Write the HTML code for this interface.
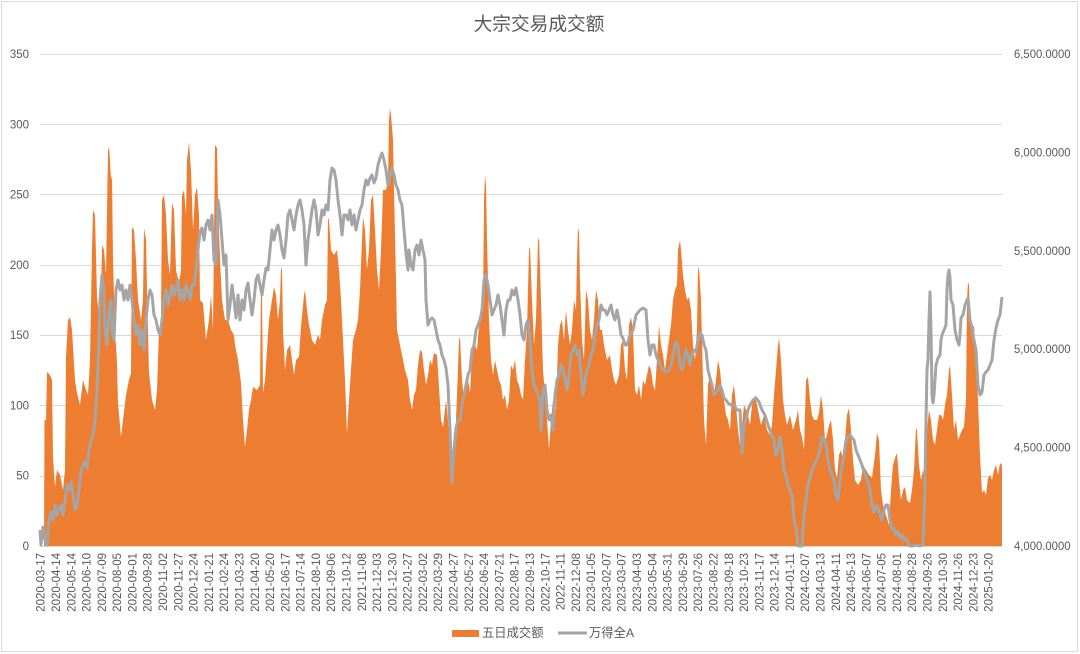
<!DOCTYPE html>
<html>
<head>
<meta charset="utf-8">
<style>
html,body{margin:0;padding:0;background:#fff;}
svg{display:block;}
text{font-family:"Liberation Sans","Noto Sans CJK SC",sans-serif;fill:#595959;}
.cjk{font-family:"Liberation Sans","Noto Sans CJK SC",sans-serif;}
</style>
</head>
<body>
<svg width="1080" height="654" viewBox="0 0 1080 654" xmlns="http://www.w3.org/2000/svg">
<rect x="0" y="0" width="1080" height="654" fill="#fff"/>
<rect x="1.5" y="1.5" width="1076" height="650" fill="none" stroke="#d9d9d9" stroke-width="1"/>

<text class="cjk" x="539" y="30.5" font-size="18.7" text-anchor="middle">大宗交易成交额</text>

<g stroke="#d9d9d9" stroke-width="1">
<line x1="40" y1="54.5" x2="1002" y2="54.5"/>
<line x1="40" y1="124.5" x2="1002" y2="124.5"/>
<line x1="40" y1="194.5" x2="1002" y2="194.5"/>
<line x1="40" y1="265.5" x2="1002" y2="265.5"/>
<line x1="40" y1="335.5" x2="1002" y2="335.5"/>
<line x1="40" y1="405.5" x2="1002" y2="405.5"/>
<line x1="40" y1="476.5" x2="1002" y2="476.5"/>
</g>

<g font-size="11.5" text-anchor="end">
<text x="29" y="58">350</text>
<text x="29" y="128.3">300</text>
<text x="29" y="198.6">250</text>
<text x="29" y="268.9">200</text>
<text x="29" y="339.1">150</text>
<text x="29" y="409.4">100</text>
<text x="29" y="479.7">50</text>
<text x="29" y="550">0</text>
</g>

<g font-size="11.5">
<text x="1014" y="58" textLength="56.5" lengthAdjust="spacingAndGlyphs">6,500.0000</text>
<text x="1014" y="156.4" textLength="56.5" lengthAdjust="spacingAndGlyphs">6,000.0000</text>
<text x="1014" y="254.8" textLength="56.5" lengthAdjust="spacingAndGlyphs">5,500.0000</text>
<text x="1014" y="353.2" textLength="56.5" lengthAdjust="spacingAndGlyphs">5,000.0000</text>
<text x="1014" y="451.6" textLength="56.5" lengthAdjust="spacingAndGlyphs">4,500.0000</text>
<text x="1014" y="550" textLength="56.5" lengthAdjust="spacingAndGlyphs">4,000.0000</text>
</g>

<polygon fill="#ed7d31" points="40,546 44,546 44.5,420 46,420 47,372 50,375 52,380 53,457 55,487 57,470 60,475 63,490 65,470 66,357 68,320 70,317 72,330 73,347 75,380 77,393 80,405 83,380 86,390 88,395 90,360 92,250 93,210 95,215 97,297 99,315 101,300 102,245 104,250 106,275 108,150 109,147 110,160 111,180 112,175 113,260 115,330 117,363 118,403 121,437 123,420 126,395 129,380 131,373 132,227 134,230 136,260 138,300 141,320 143,300 144,228 146,240 147,290 149,373 152,400 155,410 157,390 159,330 161,320 162,200 164,195 166,215 168,260 170,275 172,203 174,210 176,270 179,283 181,270 182,195 184,190 186,215 187,160 189,142 191,170 193,230 195,195 197,187 199,215 200,300 203,303 206,340 209,320 211,295 213,330 215,145 217,148 218,200 220,260 222,300 225,320 228,320 231,330 234,335 235,345 238,360 241,383 243,420 245,447 247,430 249,410 251,400 253,387 257,390 260,385 261,287 262,290 263,393 265,380 267,350 269,320 272,300 274,287 276,295 278,320 280,300 281,267 282,270 283,330 285,370 287,350 290,345 292,360 294,375 296,360 299,357 301,327 304,295 305,290 307,310 309,325 312,340 315,345 318,335 320,340 322,320 325,305 327,300 328,218 329,220 331,250 334,255 337,250 339,270 341,300 343,340 345,380 347,433 349,400 351,370 353,340 356,330 358,320 360,290 362,240 363,217 365,230 367,270 369,250 371,200 373,195 375,230 377,270 379,290 381,250 383,190 386,190 388,180 389,120 390,108 391,115 393,140 394,190 396,280 397,330 399,340 402,355 405,370 408,380 410,400 412,410 414,395 416,390 418,365 420,350 422,352 424,370 426,385 428,375 430,360 432,365 434,353 437,355 439,387 441,420 443,427 446,400 448,420 450,450 452,465 454,455 456,420 457,395 459,340 460,337 462,380 464,400 466,390 468,380 470,393 472,355 475,345 477,350 479,325 481,315 483,310 484,200 485,175 486,185 487,240 489,320 491,360 493,375 495,360 497,370 499,380 501,385 503,400 505,395 507,410 509,400 511,365 513,370 515,360 517,380 519,385 521,395 523,400 525,360 527,330 529,250 530,247 532,300 534,345 536,320 538,240 539,238 541,300 543,370 545,395 547,420 549,450 551,420 553,400 556,410 558,345 560,325 562,320 564,340 566,310 568,330 570,345 572,330 574,300 576,310 577,260 578,228 579,232 580,280 582,340 584,360 586,290 588,300 590,330 592,340 594,320 596,290 598,300 600,330 602,330 604,345 607,360 610,355 612,370 614,380 616,385 619,375 621,345 623,340 625,370 627,380 629,325 631,317 633,330 635,390 637,395 639,385 641,400 643,380 645,385 647,375 649,365 651,370 653,385 655,390 657,360 659,325 661,345 663,355 665,370 667,355 669,340 671,325 673,300 675,290 677,285 678,250 680,240 681,250 683,275 685,290 687,300 689,297 691,310 693,345 695,360 697,330 698,270 699,267 701,300 702,340 704,420 706,445 708,385 710,375 712,385 714,395 716,380 718,360 720,370 722,390 724,400 726,415 728,420 730,430 732,395 734,385 736,405 738,430 740,445 742,425 744,405 746,410 748,415 750,425 752,405 755,395 758,410 761,425 764,415 767,430 770,435 772,425 774,395 776,370 778,345 779,338 781,360 783,400 785,415 787,425 790,415 793,430 796,420 798,410 800,430 802,437 804,450 806,380 808,377 810,400 812,415 814,420 817,420 819,413 821,395 823,410 825,440 827,435 829,425 831,420 833,440 835,470 837,478 839,455 841,450 843,460 845,440 847,415 849,408 851,430 853,460 855,480 858,485 861,480 863,465 866,470 869,475 872,478 875,455 877,433 879,440 881,490 883,505 886,515 889,525 891,490 893,465 895,458 897,453 899,480 901,500 903,490 905,487 907,500 910,503 912,490 914,470 916,428 917,430 919,465 921,480 923,470 925,480 927,430 929,410 931,420 933,440 935,445 937,430 939,415 941,415 943,420 945,405 947,395 949,370 950,365 952,395 954,430 956,420 958,440 960,435 962,430 964,427 966,400 967,300 968,282 969,285 970,320 972,330 974,325 976,360 978,400 980,455 982,493 984,490 986,495 988,478 990,475 992,480 994,470 996,465 998,475 1000,463 1002,465 1002,546"/>

<line x1="40" y1="546.5" x2="1002" y2="546.5" stroke="#d9d9d9" stroke-width="1"/>

<polyline fill="none" stroke="#a5a5a5" stroke-width="3" stroke-linejoin="round" points="40,530 41,545 43,527 45,540 47,545 49,520 51,512 53,520 55,505 57,515 59,510 61,505 63,515 65,500 67,485 69,490 71,482 73,495 75,510 77,505 79,490 81,470 83,465 85,462 87,468 89,450 91,440 93,435 95,420 97,390 99,340 100,300 102,275 104,290 105,330 107,345 109,310 111,300 112,330 114,340 116,290 118,280 120,290 122,285 124,300 126,290 128,300 130,285 132,300 134,320 136,335 138,325 140,345 142,330 144,350 146,320 148,300 150,290 152,295 154,315 156,320 158,330 160,335 162,320 164,300 166,290 168,305 170,295 172,285 174,295 176,290 178,280 180,300 182,290 184,300 186,285 188,290 190,300 192,285 194,285 196,270 198,250 200,232 202,228 204,240 206,225 208,220 210,230 212,215 214,260 216,265 218,200 220,215 222,240 224,265 226,255 228,320 230,305 232,285 234,300 236,318 238,295 240,320 242,300 244,310 246,290 248,283 250,300 252,315 254,300 256,280 258,275 260,285 262,295 264,280 266,268 268,270 270,250 272,230 274,240 276,230 278,225 280,235 282,250 284,258 286,240 288,215 290,210 292,220 294,230 296,215 298,205 300,200 302,210 304,225 306,265 308,240 310,225 312,210 314,200 316,210 318,235 320,225 322,210 324,215 326,205 328,210 330,180 332,168 334,170 336,180 338,200 340,215 342,235 344,215 346,215 348,220 350,210 352,225 354,215 356,230 358,220 360,210 362,205 364,190 366,180 368,185 370,178 372,175 374,183 376,178 378,165 380,158 382,153 384,160 386,170 388,185 390,175 392,168 394,175 396,185 398,190 400,200 402,205 404,230 406,253 408,270 409,250 411,265 413,270 415,250 417,245 419,255 421,240 423,250 425,260 426,300 428,325 430,320 432,318 434,320 436,330 438,340 440,345 442,355 444,360 446,368 448,385 450,430 452,483 454,450 456,428 458,420 460,420 462,405 464,395 466,385 468,375 470,370 472,350 474,345 476,330 478,325 480,320 482,310 484,280 486,275 488,285 490,300 492,315 494,310 496,305 498,295 500,305 502,320 504,335 506,310 508,300 510,300 512,290 514,295 516,288 518,300 520,315 522,335 524,340 526,325 528,320 530,340 532,370 534,385 536,390 538,395 540,400 541,430 543,390 545,385 547,410 549,420 551,415 553,430 555,395 557,380 559,375 561,365 563,370 565,380 567,390 569,375 571,355 573,350 575,345 577,355 579,350 581,375 583,395 585,380 587,370 589,365 591,355 593,350 595,335 597,325 599,320 601,305 603,310 605,310 607,315 609,310 611,305 613,315 615,320 617,310 619,320 621,335 623,338 625,345 627,345 630,335 633,330 636,315 640,310 643,308 646,310 648,340 650,355 652,345 654,345 656,355 658,360 660,365 663,370 666,372 669,370 671,365 673,355 676,342 678,345 680,365 682,370 684,360 686,350 688,355 690,365 692,355 694,350 696,352 698,340 700,333 702,335 704,345 706,350 708,370 710,378 712,385 714,395 716,393 718,390 720,385 722,390 724,398 726,400 728,403 731,405 734,405 737,410 740,410 742,453 744,425 746,420 748,410 750,405 753,400 756,398 759,402 762,410 765,415 768,425 771,433 774,440 776,455 778,450 780,437 782,450 784,470 786,475 788,485 790,490 792,495 794,520 796,528 798,546 800,546 802,546 804,515 806,500 808,485 810,478 812,470 814,465 817,460 820,450 822,437 824,440 826,445 828,460 830,470 832,475 834,480 836,495 838,500 840,480 842,465 844,455 846,440 848,437 850,435 852,438 854,440 856,450 858,455 860,460 862,465 864,472 866,478 868,482 870,490 872,505 874,512 876,505 878,508 880,515 882,520 884,510 886,505 888,505 890,520 892,530 894,528 896,535 898,532 900,538 902,535 904,540 906,538 908,543 910,546 913,546 916,545 920,546 923,545 924,520 925,480 926,420 927,370 928,360 929,320 930,292 931,330 932,395 933,403 934,395 936,365 938,358 940,355 941,340 942,335 944,330 946,325 947,290 948,275 949,270 950,278 951,300 953,305 955,330 957,340 959,345 960,335 961,318 963,315 965,305 967,300 968,298 970,320 972,328 974,340 976,350 978,385 980,395 982,392 984,375 986,372 988,370 990,365 992,360 994,340 996,328 998,320 1000,315 1002,297"/>

<g font-size="11.5" text-anchor="end">
<text transform="translate(44.7,553) rotate(-90)">2020-03-17</text>
<text transform="translate(60.0,553) rotate(-90)">2020-04-14</text>
<text transform="translate(75.3,553) rotate(-90)">2020-05-14</text>
<text transform="translate(90.6,553) rotate(-90)">2020-06-10</text>
<text transform="translate(105.9,553) rotate(-90)">2020-07-09</text>
<text transform="translate(121.2,553) rotate(-90)">2020-08-05</text>
<text transform="translate(136.4,553) rotate(-90)">2020-09-01</text>
<text transform="translate(151.7,553) rotate(-90)">2020-09-28</text>
<text transform="translate(167.0,553) rotate(-90)">2020-11-02</text>
<text transform="translate(182.3,553) rotate(-90)">2020-11-27</text>
<text transform="translate(197.6,553) rotate(-90)">2020-12-24</text>
<text transform="translate(212.9,553) rotate(-90)">2021-01-21</text>
<text transform="translate(228.2,553) rotate(-90)">2021-02-24</text>
<text transform="translate(243.5,553) rotate(-90)">2021-03-23</text>
<text transform="translate(258.8,553) rotate(-90)">2021-04-20</text>
<text transform="translate(274.1,553) rotate(-90)">2021-05-20</text>
<text transform="translate(289.4,553) rotate(-90)">2021-06-17</text>
<text transform="translate(304.6,553) rotate(-90)">2021-07-14</text>
<text transform="translate(319.9,553) rotate(-90)">2021-08-10</text>
<text transform="translate(335.2,553) rotate(-90)">2021-09-06</text>
<text transform="translate(350.5,553) rotate(-90)">2021-10-12</text>
<text transform="translate(365.8,553) rotate(-90)">2021-11-08</text>
<text transform="translate(381.1,553) rotate(-90)">2021-12-03</text>
<text transform="translate(396.4,553) rotate(-90)">2021-12-30</text>
<text transform="translate(411.7,553) rotate(-90)">2022-01-27</text>
<text transform="translate(427.0,553) rotate(-90)">2022-03-02</text>
<text transform="translate(442.2,553) rotate(-90)">2022-03-29</text>
<text transform="translate(457.5,553) rotate(-90)">2022-04-27</text>
<text transform="translate(472.8,553) rotate(-90)">2022-05-27</text>
<text transform="translate(488.1,553) rotate(-90)">2022-06-24</text>
<text transform="translate(503.4,553) rotate(-90)">2022-07-21</text>
<text transform="translate(518.7,553) rotate(-90)">2022-08-17</text>
<text transform="translate(534.0,553) rotate(-90)">2022-09-13</text>
<text transform="translate(549.3,553) rotate(-90)">2022-10-17</text>
<text transform="translate(564.6,553) rotate(-90)">2022-11-11</text>
<text transform="translate(579.9,553) rotate(-90)">2022-12-08</text>
<text transform="translate(595.1,553) rotate(-90)">2023-01-05</text>
<text transform="translate(610.4,553) rotate(-90)">2023-02-07</text>
<text transform="translate(625.7,553) rotate(-90)">2023-03-07</text>
<text transform="translate(641.0,553) rotate(-90)">2023-04-03</text>
<text transform="translate(656.3,553) rotate(-90)">2023-05-04</text>
<text transform="translate(671.6,553) rotate(-90)">2023-05-31</text>
<text transform="translate(686.9,553) rotate(-90)">2023-06-29</text>
<text transform="translate(702.2,553) rotate(-90)">2023-07-26</text>
<text transform="translate(717.5,553) rotate(-90)">2023-08-22</text>
<text transform="translate(732.8,553) rotate(-90)">2023-09-18</text>
<text transform="translate(748.0,553) rotate(-90)">2023-10-23</text>
<text transform="translate(763.3,553) rotate(-90)">2023-11-17</text>
<text transform="translate(778.6,553) rotate(-90)">2023-12-14</text>
<text transform="translate(793.9,553) rotate(-90)">2024-01-11</text>
<text transform="translate(809.2,553) rotate(-90)">2024-02-07</text>
<text transform="translate(824.5,553) rotate(-90)">2024-03-13</text>
<text transform="translate(839.8,553) rotate(-90)">2024-04-11</text>
<text transform="translate(855.1,553) rotate(-90)">2024-05-13</text>
<text transform="translate(870.4,553) rotate(-90)">2024-06-07</text>
<text transform="translate(885.7,553) rotate(-90)">2024-07-05</text>
<text transform="translate(900.9,553) rotate(-90)">2024-08-01</text>
<text transform="translate(916.2,553) rotate(-90)">2024-08-28</text>
<text transform="translate(931.5,553) rotate(-90)">2024-09-26</text>
<text transform="translate(946.8,553) rotate(-90)">2024-10-30</text>
<text transform="translate(962.1,553) rotate(-90)">2024-11-26</text>
<text transform="translate(977.4,553) rotate(-90)">2024-12-23</text>
<text transform="translate(992.7,553) rotate(-90)">2025-01-20</text>
</g>

<rect x="452" y="630" width="27" height="7" fill="#ed7d31"/>
<text class="cjk" x="482" y="637" font-size="12.3">五日成交额</text>
<line x1="558" y1="633" x2="587" y2="633" stroke="#a5a5a5" stroke-width="3"/>
<text class="cjk" x="589" y="637" font-size="12.3">万得全A</text>
</svg>
</body>
</html>
